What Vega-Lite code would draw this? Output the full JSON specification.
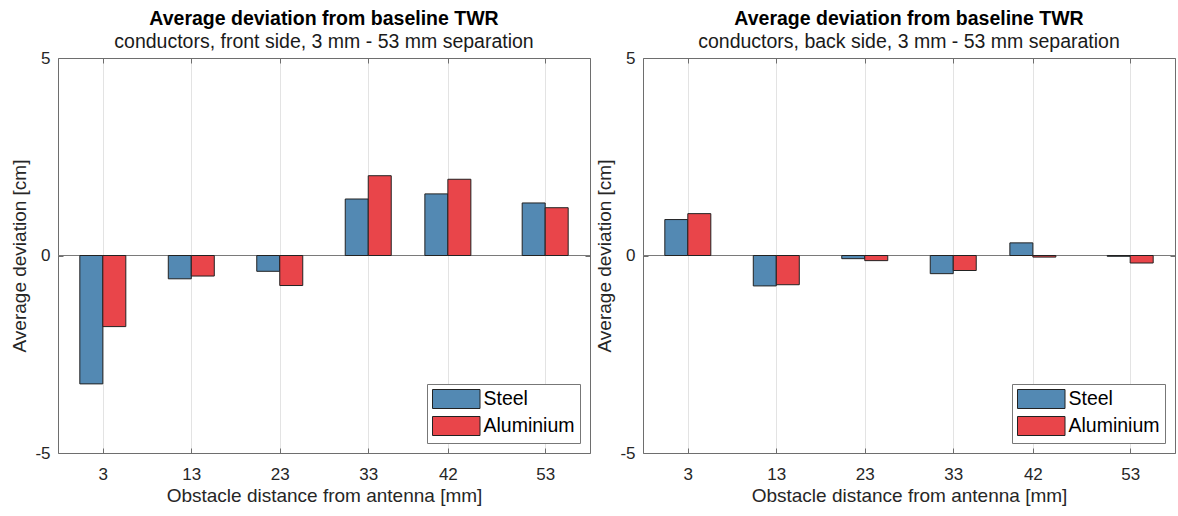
{
  "$schema": "https://vega.github.io/schema/vega-lite/v6.json",
  "padding": {"left": 10, "top": 9, "right": 0, "bottom": 0},
  "autosize": {"type": "pad"},
  "data": {"values": [
    {"side": "front", "distance": 3, "material": "Steel", "deviation": -3.25},
    {"side": "front", "distance": 3, "material": "Aluminium", "deviation": -1.80},
    {"side": "front", "distance": 13, "material": "Steel", "deviation": -0.59},
    {"side": "front", "distance": 13, "material": "Aluminium", "deviation": -0.52},
    {"side": "front", "distance": 23, "material": "Steel", "deviation": -0.40},
    {"side": "front", "distance": 23, "material": "Aluminium", "deviation": -0.76},
    {"side": "front", "distance": 33, "material": "Steel", "deviation": 1.43},
    {"side": "front", "distance": 33, "material": "Aluminium", "deviation": 2.02},
    {"side": "front", "distance": 42, "material": "Steel", "deviation": 1.56},
    {"side": "front", "distance": 42, "material": "Aluminium", "deviation": 1.93},
    {"side": "front", "distance": 53, "material": "Steel", "deviation": 1.33},
    {"side": "front", "distance": 53, "material": "Aluminium", "deviation": 1.21},
    {"side": "back", "distance": 3, "material": "Steel", "deviation": 0.91},
    {"side": "back", "distance": 3, "material": "Aluminium", "deviation": 1.06},
    {"side": "back", "distance": 13, "material": "Steel", "deviation": -0.77},
    {"side": "back", "distance": 13, "material": "Aluminium", "deviation": -0.74},
    {"side": "back", "distance": 23, "material": "Steel", "deviation": -0.08},
    {"side": "back", "distance": 23, "material": "Aluminium", "deviation": -0.13},
    {"side": "back", "distance": 33, "material": "Steel", "deviation": -0.46},
    {"side": "back", "distance": 33, "material": "Aluminium", "deviation": -0.38},
    {"side": "back", "distance": 42, "material": "Steel", "deviation": 0.32},
    {"side": "back", "distance": 42, "material": "Aluminium", "deviation": -0.04},
    {"side": "back", "distance": 53, "material": "Steel", "deviation": -0.02},
    {"side": "back", "distance": 53, "material": "Aluminium", "deviation": -0.19}
  ]},
  "spacing": 53,
  "bounds": "flush",
  "resolve": {"legend": {"color": "independent"}},
  "hconcat": [
    {
      "width": 532,
      "height": 395,
      "title": {"text": "Average deviation from baseline TWR", "subtitle": "conductors, front side, 3 mm - 53 mm separation"},
      "transform": [{"filter": "datum.side === 'front'"}],
      "layer": [
        {
          "data": {"values": [{"z": 0}]},
          "mark": {"type": "rule", "color": "#7a7a7a", "strokeWidth": 1},
          "encoding": {"y": {"field": "z", "type": "quantitative", "axis": null, "scale": {"domain": [-5, 5], "nice": false, "zero": false}}}
        },
        {
          "transform": [{"filter": "datum.material === 'Steel'"}],
          "mark": {"type": "bar", "width": 23, "xOffset": -11.5, "stroke": "#222222", "strokeWidth": 1},
          "encoding": {
            "x": {"field": "distance", "type": "quantitative", "scale": {"domain": [-1.5, 57.5], "nice": false, "zero": false},
                  "axis": {"orient": "bottom", "values": [3, 13, 23, 33, 42, 53], "grid": true, "title": "Obstacle distance from antenna [mm]", "labelPadding": 18.5, "titlePadding": 4}},
            "y": {"field": "deviation", "type": "quantitative", "scale": {"domain": [-5, 5], "nice": false, "zero": false},
                  "axis": {"orient": "left", "values": [-5, 0, 5], "grid": false, "title": "Average deviation [cm]", "labelPadding": 13, "titlePadding": 5, "labelExpr": "'' + datum.value"}},
            "color": {"field": "material", "type": "nominal", "scale": {"domain": ["Steel", "Aluminium"], "range": ["#5389b3", "#e9454a"]},
                      "legend": {"orient": "bottom-right", "title": null}}
          }
        },
        {
          "transform": [{"filter": "datum.material === 'Aluminium'"}],
          "mark": {"type": "bar", "width": 23, "xOffset": 11.5, "stroke": "#222222", "strokeWidth": 1},
          "encoding": {
            "x": {"field": "distance", "type": "quantitative", "axis": {"orient": "top", "values": [3, 13, 23, 33, 42, 53], "grid": false, "labels": false, "title": null}},
            "y": {"field": "deviation", "type": "quantitative", "axis": {"orient": "right", "values": [-5, 0, 5], "grid": false, "labels": false, "title": null}},
            "color": {"field": "material", "type": "nominal", "legend": {"orient": "bottom-right", "title": null}}
          }
        }
      ],
      "resolve": {"axis": {"x": "independent", "y": "independent"}}
    },
    {
      "width": 532,
      "height": 395,
      "title": {"text": "Average deviation from baseline TWR", "subtitle": "conductors, back side, 3 mm - 53 mm separation"},
      "transform": [{"filter": "datum.side === 'back'"}],
      "layer": [
        {
          "data": {"values": [{"z": 0}]},
          "mark": {"type": "rule", "color": "#7a7a7a", "strokeWidth": 1},
          "encoding": {"y": {"field": "z", "type": "quantitative", "axis": null, "scale": {"domain": [-5, 5], "nice": false, "zero": false}}}
        },
        {
          "transform": [{"filter": "datum.material === 'Steel'"}],
          "mark": {"type": "bar", "width": 23, "xOffset": -11.5, "stroke": "#222222", "strokeWidth": 1},
          "encoding": {
            "x": {"field": "distance", "type": "quantitative", "scale": {"domain": [-1.5, 57.5], "nice": false, "zero": false},
                  "axis": {"orient": "bottom", "values": [3, 13, 23, 33, 42, 53], "grid": true, "title": "Obstacle distance from antenna [mm]", "labelPadding": 18.5, "titlePadding": 4}},
            "y": {"field": "deviation", "type": "quantitative", "scale": {"domain": [-5, 5], "nice": false, "zero": false},
                  "axis": {"orient": "left", "values": [-5, 0, 5], "grid": false, "title": "Average deviation [cm]", "labelPadding": 13, "titlePadding": 5, "labelExpr": "'' + datum.value"}},
            "color": {"field": "material", "type": "nominal", "scale": {"domain": ["Steel", "Aluminium"], "range": ["#5389b3", "#e9454a"]},
                      "legend": {"orient": "bottom-right", "title": null}}
          }
        },
        {
          "transform": [{"filter": "datum.material === 'Aluminium'"}],
          "mark": {"type": "bar", "width": 23, "xOffset": 11.5, "stroke": "#222222", "strokeWidth": 1},
          "encoding": {
            "x": {"field": "distance", "type": "quantitative", "axis": {"orient": "top", "values": [3, 13, 23, 33, 42, 53], "grid": false, "labels": false, "title": null}},
            "y": {"field": "deviation", "type": "quantitative", "axis": {"orient": "right", "values": [-5, 0, 5], "grid": false, "labels": false, "title": null}},
            "color": {"field": "material", "type": "nominal", "legend": {"orient": "bottom-right", "title": null}}
          }
        }
      ],
      "resolve": {"axis": {"x": "independent", "y": "independent"}}
    }
  ],
  "config": {
    "font": "Liberation Sans",
    "view": {"stroke": null},
    "axis": {
      "domainColor": "#6e6e6e",
      "tickColor": "#6e6e6e",
      "tickSize": -5,
      "labelFont": "Liberation Sans",
      "labelFontSize": 17,
      "labelColor": "#262626",
      "titleFont": "Liberation Sans",
      "titleFontSize": 19,
      "titleFontWeight": "normal",
      "titleColor": "#262626",
      "gridColor": "#e3e3e3"
    },
    "legend": {
      "offset": 10,
      "padding": 5,
      "strokeColor": "#777777",
      "fillColor": "#ffffff",
      "symbolType": "M-1,-1H4V1H-1Z",
      "symbolSize": 361,
      "symbolStrokeColor": "#222222",
      "symbolStrokeWidth": 1,
      "symbolOpacity": 1,
      "labelFont": "Liberation Sans",
      "labelFontSize": 19.5,
      "labelColor": "#000000",
      "labelOffset": 31.5,
      "rowPadding": 3
    },
    "title": {
      "anchor": "middle",
      "frame": "group",
      "font": "Liberation Sans",
      "fontSize": 19.5,
      "fontWeight": "bold",
      "color": "#000000",
      "subtitleFont": "Liberation Sans",
      "subtitleFontSize": 19.5,
      "subtitleColor": "#1a1a1a",
      "subtitlePadding": 0,
      "offset": -3
    }
  }
}
